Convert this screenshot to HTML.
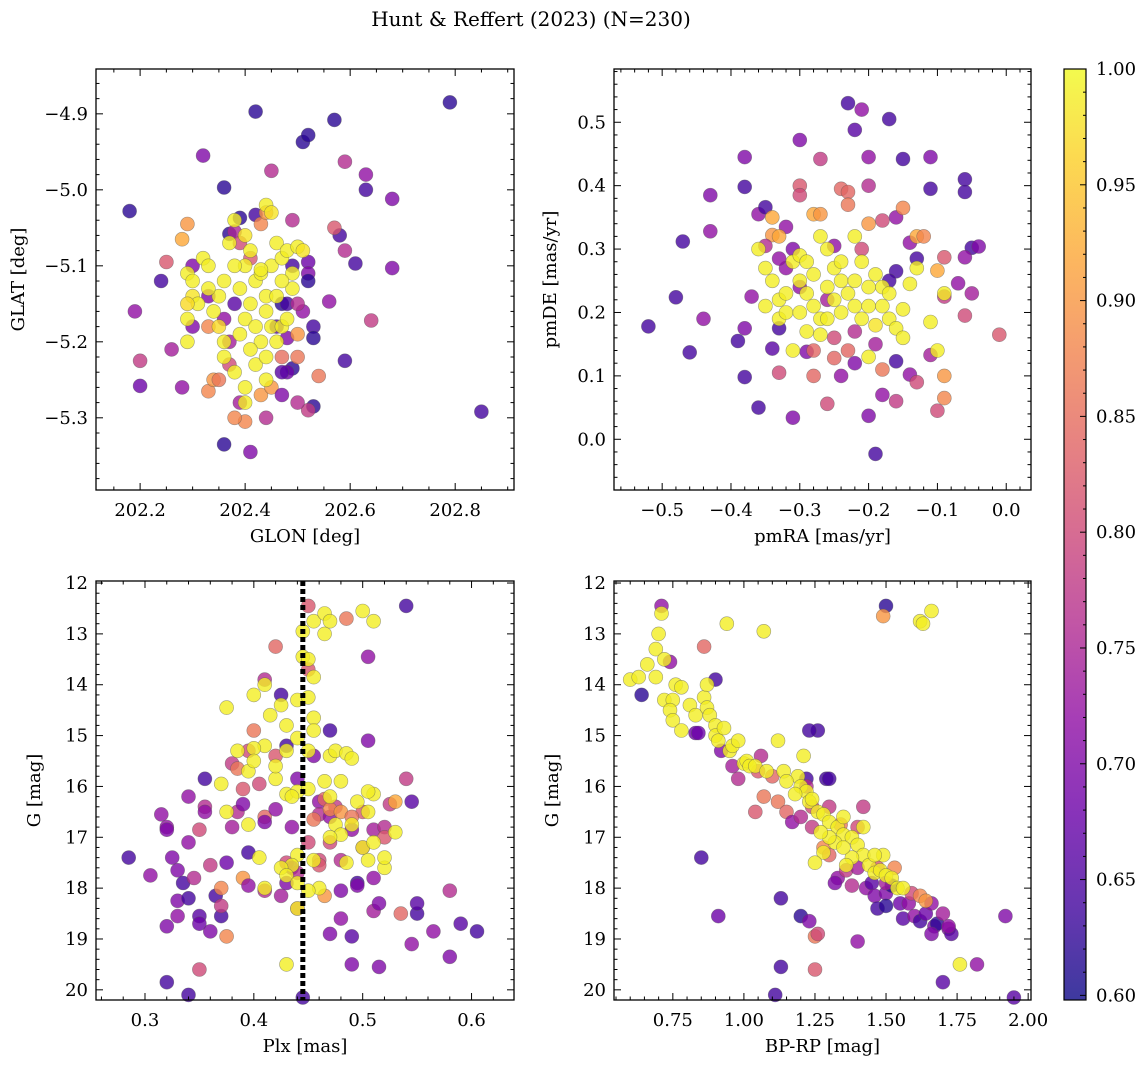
<!DOCTYPE html>
<html><head><meta charset="utf-8">
<style>
html,body{margin:0;padding:0;background:#fff;}
svg{display:block;font-family:"DejaVu Serif","Liberation Serif",serif;}
</style></head>
<body>
<svg id="chart" width="1148" height="1068" viewBox="0 0 1148 1068" xmlns="http://www.w3.org/2000/svg">
<defs>
<linearGradient id="plasma" x1="0" y1="1" x2="0" y2="0">
<stop offset="0" stop-color="#0d0887"/><stop offset="0.1" stop-color="#41049d"/><stop offset="0.2" stop-color="#6a00a8"/><stop offset="0.3" stop-color="#8f0da4"/><stop offset="0.4" stop-color="#b12a90"/><stop offset="0.5" stop-color="#cc4778"/><stop offset="0.6" stop-color="#e16462"/><stop offset="0.7" stop-color="#f2844b"/><stop offset="0.8" stop-color="#fca636"/><stop offset="0.9" stop-color="#fcce25"/><stop offset="1" stop-color="#f0f921"/>
</linearGradient>
</defs>
<text x="531" y="26" font-size="20" text-anchor="middle">Hunt &amp; Reffert (2023) (N=230)</text>
</svg>
<script>
// ---- Panel 1: GLON vs GLAT ----
const glonVals=[202.18,202.19,202.20,202.20,202.24,202.25,202.26,202.28,202.29,202.28,202.32,202.36,202.36,202.37,202.38,202.39,202.42,202.42,202.43,202.44,202.45,202.41,202.40,202.38,202.33,202.51,202.52,202.57,202.59,202.63,202.63,202.68,202.79,202.85,202.68,202.64,202.59,202.58,202.57,202.59,202.61,202.56,202.54,202.53,202.52,202.50,202.49,202.48,202.50,202.48,202.49,202.52,202.52,202.51,202.53,202.53,202.52,202.49,202.47,
202.33,202.34,202.35,202.37,202.37,202.33,202.30,202.30,202.38,202.36,202.39,202.41,202.43,202.45,202.47,202.48,202.46,202.50,202.50,202.47,202.44,202.39,202.47,
202.44,202.45,202.38,202.40,202.37,202.32,202.33,202.29,202.30,202.30,202.31,202.29,202.29,202.29,202.34,202.35,202.36,202.36,202.39,202.40,202.41,202.42,202.43,202.44,202.45,202.46,202.47,202.48,202.49,202.44,202.45,202.43,202.41,202.40,202.39,202.41,202.42,202.44,202.46,202.47,202.50,202.51,202.48,202.49,202.38,202.40,202.44,202.46,202.42,202.38,202.35,202.36,202.40,202.43,202.47,202.33];
const glatVals=[-5.028,-5.16,-5.258,-5.225,-5.12,-5.095,-5.21,-5.26,-5.045,-5.065,-4.955,-4.997,-5.335,-5.058,-5.055,-5.037,-4.897,-5.033,-5.045,-5.03,-4.975,-5.345,-5.305,-5.30,-5.265,-4.937,-4.928,-4.908,-4.963,-4.98,-5.0,-5.012,-4.885,-5.292,-5.103,-5.172,-5.225,-5.06,-5.05,-5.08,-5.097,-5.147,-5.245,-5.285,-5.29,-5.28,-5.235,-5.24,-5.22,-5.195,-5.04,-5.095,-5.11,-5.16,-5.18,-5.195,-5.12,-5.10,-5.15,
-5.18,-5.25,-5.25,-5.23,-5.20,-5.14,-5.18,-5.10,-5.15,-5.17,-5.07,-5.09,-5.27,-5.26,-5.22,-5.15,-5.18,-5.15,-5.19,-5.27,-5.30,-5.28,-5.24,
-5.02,-5.03,-5.04,-5.06,-5.07,-5.09,-5.10,-5.11,-5.12,-5.14,-5.15,-5.15,-5.17,-5.20,-5.16,-5.18,-5.20,-5.22,-5.13,-5.10,-5.08,-5.12,-5.11,-5.14,-5.10,-5.07,-5.09,-5.08,-5.11,-5.16,-5.18,-5.20,-5.15,-5.17,-5.19,-5.21,-5.23,-5.22,-5.20,-5.18,-5.075,-5.08,-5.17,-5.13,-5.24,-5.26,-5.25,-5.14,-5.18,-5.10,-5.14,-5.12,-5.28,-5.105,-5.12,-5.13];
const prob1=[.62,.72,.68,.78,.64,.82,.74,.72,.90,.92,.70,.62,.62,.62,.75,.62,.62,.64,.88,.90,.76,.70,.88,.88,.88,.62,.62,.62,.76,.72,.64,.70,.62,.64,.70,.78,.64,.64,.82,.76,.64,.72,.86,.62,.78,.76,.62,.68,.86,.70,.76,.68,.70,.72,.64,.62,.62,.64,.62,
.88,.90,.86,.80,.74,.70,.70,.70,.66,.72,.80,.82,.90,.90,.85,.64,.66,.76,.90,.70,.76,.74,.66,
.99,.98,.99,.98,.99,.99,.99,.99,.99,.98,.99,.97,.99,.99,.99,.97,.99,.99,.99,.99,.99,.99,.99,.99,.99,.99,.99,.99,.99,.99,.99,.99,.99,.99,.99,.99,.99,.99,.99,.99,.99,.98,.99,.99,.99,.99,.99,.99,.99,.99,.99,.99,.99,.99,.99,.99];

// ---- Panel 2: pmRA vs pmDE ----
const pmraVals=[-0.52,-0.47,-0.48,-0.46,-0.43,-0.43,-0.44,-0.38,-0.38,-0.39,-0.38,-0.37,-0.38,-0.36,-0.35,-0.36,-0.34,-0.33,-0.33,-0.30,-0.27,-0.23,-0.21,-0.22,-0.17,-0.20,-0.15,-0.11,-0.06,-0.06,-0.11,-0.05,-0.04,-0.06,-0.07,-0.05,-0.06,-0.01,-0.09,-0.10,-0.09,-0.11,-0.10,-0.09,-0.09,-0.14,-0.13,-0.13,-0.16,-0.16,-0.18,-0.16,-0.20,-0.19,-0.26,-0.31,-0.28,-0.29,-0.25,-0.22,-0.24,-0.20,-0.16,-0.15,-0.14,-0.13,-0.12,-0.18,-0.24,-0.23,-0.23,-0.25,-0.28,-0.27,-0.30,-0.30,-0.32,-0.31,-0.32,-0.34,-0.33,-0.34,-0.35,-0.33,
-0.30,-0.25,-0.22,-0.17,-0.19,-0.21,-0.26,-0.28,-0.23,-0.20,-0.18,
-0.35,-0.34,-0.33,-0.35,-0.33,-0.32,-0.31,-0.30,-0.29,-0.30,-0.28,-0.29,-0.28,-0.27,-0.29,-0.27,-0.26,-0.25,-0.24,-0.23,-0.25,-0.24,-0.22,-0.21,-0.22,-0.21,-0.22,-0.19,-0.18,-0.17,-0.18,-0.17,-0.16,-0.15,-0.14,-0.13,-0.11,-0.10,-0.09,-0.15,-0.20,-0.26,-0.27,-0.32,-0.24,-0.20,-0.26,-0.31,-0.36,-0.30,-0.20,-0.19];
const pmdeVals=[0.178,0.312,0.224,0.137,0.385,0.328,0.19,0.445,0.398,0.155,0.098,0.225,0.175,0.355,0.366,0.05,0.143,0.175,0.105,0.472,0.442,0.53,0.52,0.488,0.505,0.445,0.442,0.445,0.41,0.39,0.395,0.302,0.304,0.287,0.246,0.23,0.195,0.165,0.287,0.266,0.225,0.133,0.045,0.065,0.10,0.102,0.09,0.285,0.265,0.123,0.07,0.06,0.037,-0.023,0.056,0.034,0.10,0.138,0.128,0.12,0.10,0.40,0.35,0.365,0.31,0.32,0.32,0.345,0.395,0.39,0.37,0.305,0.355,0.355,0.40,0.385,0.335,0.30,0.27,0.322,0.32,0.35,0.305,0.285,
0.24,0.16,0.17,0.25,0.15,0.30,0.22,0.14,0.14,0.34,0.11,
0.27,0.25,0.22,0.21,0.19,0.20,0.28,0.29,0.28,0.25,0.26,0.23,0.21,0.19,0.17,0.165,0.24,0.27,0.25,0.23,0.22,0.20,0.21,0.19,0.25,0.28,0.32,0.26,0.24,0.23,0.21,0.19,0.175,0.205,0.245,0.27,0.185,0.14,0.23,0.16,0.13,0.30,0.32,0.23,0.28,0.21,0.19,0.14,0.30,0.20,0.24,0.18];
const prob2=[.64,.64,.64,.64,.70,.72,.72,.70,.64,.64,.64,.72,.70,.72,.64,.64,.66,.64,.80,.70,.78,.64,.72,.66,.64,.72,.64,.70,.64,.64,.64,.64,.70,.72,.72,.74,.80,.82,.82,.92,.78,.74,.80,.88,.90,.72,.80,.64,.64,.64,.72,.78,.70,.64,.80,.70,.84,.70,.84,.70,.72,.76,.72,.88,.72,.92,.88,.80,.84,.84,.86,.72,.92,.90,.82,.80,.72,.70,.72,.90,.92,.92,.76,.72,
.72,.80,.76,.64,.74,.80,.74,.84,.84,.90,.86,
.99,.99,.99,.99,.99,.99,.99,.99,.99,.99,.99,.99,.99,.99,.99,.99,.99,.99,.99,.99,.99,.99,.99,.99,.99,.99,.99,.99,.99,.99,.99,.99,.99,.99,.99,.99,.99,.99,.99,.99,.99,.99,.99,.99,.99,.99,.99,.99,.99,.99,.99,.98];

// ---- Panel 3: Plx vs G ----
const plxVals=[0.285,0.305,0.315,0.32,0.32,0.32,0.32,0.325,0.33,0.33,0.33,0.335,0.34,0.34,0.34,0.34,0.345,0.35,0.35,0.35,0.35,0.355,0.355,0.355,0.36,0.36,0.365,0.37,0.37,0.37,0.375,0.375,0.38,0.38,0.385,0.385,0.39,0.39,0.39,0.395,0.395,0.395,0.40,0.405,0.41,0.41,0.41,0.41,0.42,0.42,0.42,0.425,0.425,0.43,0.43,0.43,0.435,0.44,0.445,0.44,0.45,0.45,0.455,0.46,0.46,0.46,0.465,0.465,0.47,0.47,0.47,0.47,0.475,0.48,0.48,0.485,0.48,0.49,0.49,0.49,0.495,0.495,0.505,0.505,0.51,0.51,0.51,0.515,0.515,0.52,0.525,0.53,0.535,0.54,0.54,0.545,0.545,0.55,0.55,0.565,0.58,0.58,0.59,0.605,0.52,0.50,0.47,0.48,0.50,0.49,0.455,0.46,0.45,0.44,0.435,
0.445,0.445,0.45,0.455,0.465,0.465,0.47,0.50,0.51,0.455,0.44,0.45,0.455,0.43,0.425,0.41,0.40,0.375,0.415,0.44,0.455,0.45,0.47,0.475,0.485,0.49,0.465,0.48,0.43,0.41,0.40,0.395,0.40,0.385,0.37,0.42,0.43,0.44,0.45,0.42,0.435,0.47,0.475,0.48,0.49,0.47,0.485,0.505,0.50,0.52,0.52,0.51,0.53,0.505,0.495,0.51,0.505,0.455,0.44,0.435,0.425,0.43,0.44,0.46,0.45,0.405,0.41,0.43,0.44,0.395,0.375];
const gPlxVals=[17.4,17.75,16.55,16.8,16.85,19.85,18.75,17.4,17.65,18.25,18.55,17.9,16.2,17.1,18.2,20.1,17.8,16.85,18.55,18.7,19.6,15.85,16.4,16.5,17.55,18.85,18.15,18.55,18.0,18.35,17.5,18.95,16.8,15.55,15.65,16.5,17.8,16.05,16.35,15.3,17.3,17.95,14.9,15.95,13.9,16.6,18.05,16.7,13.25,15.4,16.45,14.2,18.15,15.2,17.9,17.5,17.6,18.4,20.15,15.85,12.45,13.7,15.4,16.3,16.55,17.45,16.25,18.15,14.9,16.6,17.1,18.9,16.4,17.45,18.6,12.7,18.05,16.85,19.5,18.95,17.9,17.95,13.45,15.1,16.85,18.45,17.8,18.3,19.55,16.8,16.35,16.3,18.5,15.85,12.45,16.3,19.1,18.5,18.3,18.85,18.05,19.35,18.7,18.85,17.0,17.2,16.45,16.5,16.5,16.6,16.65,17.55,17.1,17.7,16.8,
12.95,13.45,13.5,12.75,12.6,13.0,12.75,12.55,12.75,13.85,14.3,14.25,14.65,14.8,14.4,14.0,14.2,14.45,14.6,15.05,14.9,15.3,15.4,15.3,15.35,15.45,15.9,15.9,15.3,15.2,15.25,15.7,15.5,15.3,15.95,15.85,16.15,16.1,16.05,15.6,16.2,16.2,16.75,16.95,16.75,17.0,17.5,17.45,17.2,17.6,17.4,17.1,16.9,16.5,16.3,16.15,16.1,17.45,17.35,17.55,17.6,17.75,17.9,18.0,18.05,17.4,18.0,19.5,18.4,16.75,16.5];
const prob3=[.64,.72,.72,.72,.70,.64,.70,.70,.70,.70,.72,.64,.72,.72,.64,.64,.76,.80,.66,.68,.80,.64,.76,.72,.78,.70,.64,.64,.88,.78,.68,.88,.74,.78,.86,.76,.90,.82,.70,.80,.64,.72,.86,.80,.76,.84,.76,.70,.84,.82,.72,.64,.74,.64,.70,.80,.70,.78,.64,.70,.82,.82,.70,.72,.76,.80,.84,.90,.64,.72,.80,.70,.78,.76,.72,.86,.70,.72,.70,.66,.64,.70,.72,.70,.74,.74,.72,.70,.70,.76,.78,.92,.84,.78,.64,.66,.72,.64,.66,.72,.76,.70,.66,.64,.82,.78,.88,.90,.82,.86,.86,.82,.80,.76,.72,
.99,.99,.99,.99,.99,.99,.99,.99,.99,.99,.99,.99,.99,.99,.99,.99,.99,.99,.99,.99,.99,.99,.99,.99,.99,.99,.99,.99,.99,.99,.99,.99,.99,.99,.99,.99,.99,.99,.99,.99,.99,.99,.99,.99,.99,.99,.99,.99,.99,.99,.99,.99,.99,.99,.99,.99,.99,.99,.99,.99,.99,.99,.99,.99,.99,.99,.99,.99,.99,.99,.99];

// ---- Panel 4: BP-RP vs G ----
const bprpVals=[0.64,0.71,0.74,0.86,0.90,0.83,0.92,0.96,0.98,1.05,1.07,1.04,1.12,1.15,1.17,1.20,1.22,1.26,1.29,1.24,1.28,1.30,1.33,1.36,1.38,1.40,1.40,1.43,1.45,1.46,1.47,1.50,1.50,1.52,1.55,1.56,1.58,1.59,1.60,1.62,1.64,1.66,1.67,1.68,1.70,1.72,1.73,1.72,1.70,1.66,1.50,1.49,1.82,1.92,1.95,1.11,1.13,1.13,1.20,1.23,1.25,1.26,1.25,1.40,0.85,0.91,1.23,1.30,1.22,1.24,1.30,1.34,1.42,1.47,1.50,1.53,1.62,1.64,1.32,1.10,0.84,1.06,
0.60,0.63,0.66,0.69,0.70,0.71,0.72,0.69,0.72,0.75,0.74,0.76,0.78,0.75,0.78,0.81,0.83,0.86,0.87,0.87,0.88,0.90,0.90,0.91,0.93,0.95,0.96,0.98,1.00,1.01,1.02,1.04,0.94,1.07,1.62,1.63,1.66,1.08,1.12,1.14,1.19,1.20,1.21,1.22,1.23,1.24,1.26,1.28,1.30,1.33,1.35,1.35,1.32,1.38,1.40,1.42,1.44,1.46,1.48,1.50,1.52,1.54,1.56,1.38,1.36,1.28,1.25,1.30,1.27,1.18,1.15,1.49,1.42,1.76,1.35,1.46];
const gColVals=[14.2,12.45,13.55,13.25,13.9,14.95,15.3,15.6,15.85,15.7,16.2,16.5,16.3,16.5,16.7,16.6,15.85,14.9,15.85,16.8,17.2,17.35,17.8,17.65,17.95,17.6,16.8,18.0,17.9,18.15,18.4,18.1,18.35,17.95,18.3,18.6,18.3,18.1,18.55,18.65,18.5,18.3,18.75,18.7,18.5,18.8,18.9,18.75,19.85,18.9,12.45,12.65,19.5,18.55,20.15,20.1,19.55,18.2,18.55,18.65,18.95,18.9,19.6,19.05,17.4,18.55,14.9,15.85,16.0,16.4,16.4,16.75,16.4,17.6,17.9,17.6,18.15,18.25,17.9,15.8,14.95,15.4,
13.9,13.85,13.6,13.3,13.0,12.6,13.5,13.85,14.3,14.3,14.5,14.0,14.05,14.7,14.9,14.4,14.6,14.25,14.0,14.45,14.6,14.8,15.0,15.1,14.85,15.3,15.2,15.1,15.55,15.5,15.6,15.6,12.8,12.95,12.75,12.8,12.55,15.7,15.1,15.7,15.8,16.0,15.4,16.1,16.3,16.25,16.5,16.55,16.7,16.8,16.6,16.95,17.1,17.0,17.15,17.35,17.55,17.7,17.65,17.75,17.8,18.0,18.0,17.4,17.55,17.3,17.5,17.0,16.9,16.15,15.9,17.35,16.8,19.5,17.2,17.35];
const prob4=[.62,.72,.72,.84,.64,.68,.70,.74,.76,.82,.86,.82,.86,.84,.72,.76,.64,.64,.64,.78,.88,.84,.72,.78,.76,.74,.80,.72,.66,.70,.64,.70,.62,.62,.68,.66,.72,.80,.72,.64,.68,.72,.70,.62,.74,.70,.66,.72,.66,.70,.62,.90,.72,.70,.66,.64,.64,.64,.62,.70,.86,.80,.82,.72,.64,.68,.64,.64,.76,.80,.78,.86,.78,.82,.74,.88,.88,.90,.70,.84,.68,.76,
.99,.99,.99,.99,.99,.99,.99,.99,.99,.99,.99,.99,.99,.99,.99,.99,.99,.99,.99,.99,.99,.99,.99,.99,.99,.99,.99,.99,.99,.99,.99,.99,.99,.99,.99,.99,.99,.99,.99,.99,.99,.99,.99,.99,.99,.99,.99,.99,.99,.99,.99,.99,.99,.99,.99,.99,.99,.99,.99,.99,.99,.99,.99,.99,.99,.99,.99,.99,.99,.99,.99,.99,.99,.99,.99,.99];

// tick labels
const p1XTicks=[202.2,202.4,202.6,202.8];
const p1YTicks=[-4.9,-5.0,-5.1,-5.2,-5.3];
const p2XTicks=[-0.5,-0.4,-0.3,-0.2,-0.1,0.0];
const p2YTicks=[0.0,0.1,0.2,0.3,0.4,0.5];
const p3XTicks=[0.3,0.4,0.5,0.6];
const gTicks=[12,13,14,15,16,17,18,19,20];
const p4XTicks=[0.75,1.00,1.25,1.50,1.75,2.00];
const cbTicks=[0.60,0.65,0.70,0.75,0.80,0.85,0.90,0.95,1.00];
const plxLine=[0.445];
const cMin=0.598, cMax=1.0;

const NS="http://www.w3.org/2000/svg";
const svg=document.getElementById('chart');
function mk(tag,attrs,parent){const e=document.createElementNS(NS,tag);for(const k in attrs)e.setAttribute(k,attrs[k]);(parent||svg).appendChild(e);return e;}

const stops=[[13,8,135],[65,4,157],[106,0,168],[143,13,164],[177,42,144],[204,71,120],[225,100,98],[242,132,75],[252,166,54],[252,206,37],[240,249,33]];
function plasma(p){let t=(p-cMin)/(cMax-cMin);t=Math.max(0,Math.min(1,t))*10;const i=Math.min(9,Math.floor(t)),f=t-i;const a=stops[i],b=stops[i+1];return `rgb(${Math.round(a[0]+(b[0]-a[0])*f)},${Math.round(a[1]+(b[1]-a[1])*f)},${Math.round(a[2]+(b[2]-a[2])*f)})`;}

function fmt(v,d){return (v<0?'\u2212':'')+Math.abs(v).toFixed(d);}

function panel(name,box,xd,yd,xt,yt,xdec,ydec,xminor,yminor,xlab,ylab,xs,ys,ps,ylabX){
  const g=mk('g',{});
  
  
  const X=v=>box.x0+(v-xd[0])/(xd[1]-xd[0])*(box.x1-box.x0);
  const Y=v=>box.y1-(v-yd[0])/(yd[1]-yd[0])*(box.y1-box.y0);
  const pts=mk('g',{},g);
  
  
  for(let i=0;i<xs.length;i++){
    const c=mk('circle',{cx:X(xs[i]).toFixed(1),cy:Y(ys[i]).toFixed(1),r:7,fill:plasma(ps[i]),'fill-opacity':0.8,stroke:'#555','stroke-opacity':0.55,'stroke-width':0.6},pts);
    
    
  }
  const frame=mk('rect',{x:box.x0,y:box.y0,width:box.x1-box.x0,height:box.y1-box.y0,fill:'none',stroke:'#000','stroke-width':1.3},g);
  
  
  const tk=mk('g',{stroke:'#000','stroke-width':1},g);
  const lo=Math.ceil(xd[0]/xminor-1e-6),hi=Math.floor(xd[1]/xminor+1e-6);
  for(let k=lo;k<=hi;k++){const v=k*xminor;const maj=xt.some(t=>Math.abs(t-v)<xminor/3);const L=maj?7:3.5;const x=X(v);
    mk('line',{x1:x,x2:x,y1:box.y1,y2:box.y1-L},tk);mk('line',{x1:x,x2:x,y1:box.y0,y2:box.y0+L},tk);}
  const lo2=Math.ceil(Math.min(yd[0],yd[1])/yminor-1e-6),hi2=Math.floor(Math.max(yd[0],yd[1])/yminor+1e-6);
  for(let k=lo2;k<=hi2;k++){const v=k*yminor;const maj=yt.some(t=>Math.abs(t-v)<yminor/3);const L=maj?7:3.5;const y=Y(v);
    mk('line',{y1:y,y2:y,x1:box.x0,x2:box.x0+L},tk);mk('line',{y1:y,y2:y,x1:box.x1,x2:box.x1-L},tk);}
  xt.forEach(v=>{const t=mk('text',{x:X(v),y:box.y1+26,'font-size':18,'text-anchor':'middle'},g);t.textContent=fmt(v,xdec);
    
    });
  yt.forEach(v=>{const t=mk('text',{x:box.x0-8,y:Y(v)+6,'font-size':18,'text-anchor':'end'},g);t.textContent=fmt(v,ydec);
    
    });
  const xl=mk('text',{x:(box.x0+box.x1)/2,y:box.y1+52,'font-size':18,'text-anchor':'middle'},g);xl.textContent=xlab;
  
  
  const cy=(box.y0+box.y1)/2;
  const yl=mk('text',{x:ylabX,y:cy,'font-size':18,'text-anchor':'middle',transform:`rotate(-90 ${ylabX} ${cy})`},g);yl.textContent=ylab;
  
  
  return {X,Y,g};
}

panel('panel-glon-glat',{x0:96,x1:514,y0:69,y1:490},[202.116,202.912],[-5.395,-4.841],p1XTicks,p1YTicks,1,1,0.05,0.02,'GLON [deg]','GLAT [deg]',glonVals,glatVals,prob1,24);
panel('panel-pm',{x0:614,x1:1031,y0:69,y1:490},[-0.570,0.036],[-0.080,0.584],p2XTicks,p2YTicks,1,1,0.02,0.02,'pmRA [mas/yr]','pmDE [mas/yr]',pmraVals,pmdeVals,prob2,556);
const p3=panel('panel-plx-g',{x0:96,x1:514,y0:581,y1:1000},[0.255,0.639],[20.2,11.96],p3XTicks,gTicks,1,0,0.02,0.2,'Plx [mas]','G [mag]',plxVals,gPlxVals,prob3,40);
panel('panel-cmd',{x0:614,x1:1031,y0:581,y1:1000},[0.543,2.01],[20.2,11.96],p4XTicks,gTicks,2,0,0.05,0.2,'BP-RP [mag]','G [mag]',bprpVals,gColVals,prob4,558);

plxLine.forEach(v=>{const x=p3.X(v);const l=mk('line',{x1:x,x2:x,y1:581,y2:1000,stroke:'#000','stroke-width':5,'stroke-dasharray':'5,3'},p3.g);
  
  });

// colorbar
const cb=mk('g',{});


const cbx0=1064,cbx1=1086,cby0=69,cby1=1000;
mk('rect',{x:cbx0,y:cby0,width:cbx1-cbx0,height:cby1-cby0,fill:'url(#plasma)','fill-opacity':0.8},cb);
mk('rect',{x:cbx0,y:cby0,width:cbx1-cbx0,height:cby1-cby0,fill:'none',stroke:'#000','stroke-width':1.2},cb);
const CY=v=>cby1-(v-cMin)/(cMax-cMin)*(cby1-cby0);
for(let k=60;k<=100;k++){const v=k/100;const maj=k%5===0;const y=CY(v);mk('line',{x1:cbx1,x2:cbx1-(maj?6:3),y1:y,y2:y,stroke:'#000','stroke-width':1},cb);}
cbTicks.forEach(v=>{const t=mk('text',{x:cbx1+10,y:CY(v)+6,'font-size':18},cb);t.textContent=v.toFixed(2);
  
  });
</script>
</body></html>
